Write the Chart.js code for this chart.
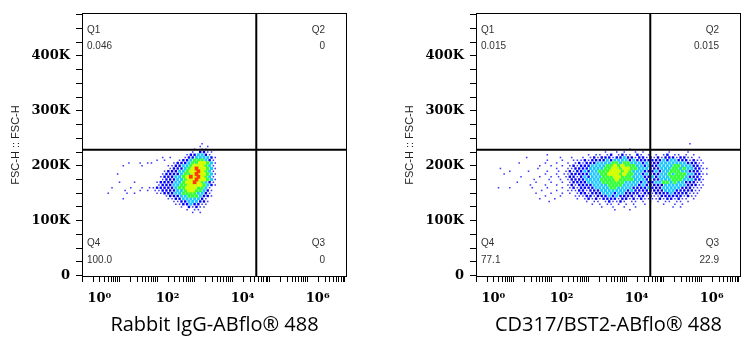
<!DOCTYPE html>
<html lang="en">
<head>
  <meta charset="UTF-8" />
  <title>CD317/BST2 flow cytometry</title>
  <script src="https://cdn.jsdelivr.net/npm/chart.js"></script>
  <style>
    body { margin: 0; background: #fff; }
    .plot { position: absolute; top: 0; }
    #plot-left { left: 0; }
    #plot-right { left: 394px; }
  </style>
</head>
<body>
  <div class="plot" id="plot-left"><canvas id="chart-left" width="360" height="350"></canvas></div>
  <div class="plot" id="plot-right"><canvas id="chart-right" width="360" height="350"></canvas></div>

  <script>
    // axes
    const xDecades = [-1, 0, 1, 2, 3, 4, 5, 6];
    const xMinorSteps = [1, 2, 3, 4, 5, 6, 7, 8, 9];
    const xLabelDecades = [0, 2, 4, 6];
    const xRange = [0.1, 1.15e6];
    const yRange = [-2500, 478000];
    const yTickValues = [0, 25000, 50000, 75000, 100000, 125000, 150000, 175000, 200000,
      225000, 250000, 275000, 300000, 325000, 350000, 375000, 400000, 425000, 450000, 475000];
    const yLabelValues = [0, 100000, 200000, 300000, 400000];

    // quadrant gate
    const gateX = 4400;
    const gateY = 229000;

    const leftTitle = 'Rabbit IgG-ABflo® 488';
    const rightTitle = 'CD317/BST2-ABflo® 488';
    const yTitle = 'FSC-H :: FSC-H';
    // Q1, Q2, Q3, Q4 (%)
    const leftQuadrants = ['0.046', '0', '0', '100.0'];
    const rightQuadrants = ['0.015', '0.015', '22.9', '77.1'];

    // event density: one string per FSC-H row (5K apart, top row first),
    // one char per 0.1 decade of fluorescence. '.' none, 1 sparse .. 6 densest
    const COL_STEP = 0.1;
    const ROW_STEP = 5000;
    const leftColStart = -0.3;
    const leftRowTop = 240000;
    const leftRows = [
      '..........|..........|.....1....',
      '..........|..........|....1.1...',
      '..........|..........|...1.11...',
      '..........|..........|..1.2211..',
      '..........|..........|.1223321..',
      '..........|....1.1...|122333321.',
      '..........|...1.1...1|223444321.',
      '.....1..1.|11.....122|234455431.',
      '....1....1|......1122|334555431.',
      '..........|......1222|345655431.',
      '..........|.....12223|345565431.',
      '..1.......|....122223|445655431.',
      '..........|....122233|456565431.',
      '..........|....122233|455655431.',
      '...1...1..|...1222233|455654321.',
      '..........|...1222334|455554321.',
      '.1....1..1|.112222234|45554431..',
      '....1...1.|1.11222233|45544321..',
      '1....1.1..|...1122233|44443321..',
      '..........|.....12223|34443221..',
      '....1.....|......1122|3333321...',
      '..........|.......112|2333221...',
      '..........|........11|2232211...',
      '..........|.........1|.21211....',
      '..........|..........|.1.11.....',
      '..........|..........|..1.1.....'
    ];
    const rightColStart = -0.5;
    const rightRowTop = 240000;
    const rightRows = [
      '..........|..........|..........|..........|..........|..1',
      '',
      '..........|..........|..........|......1',
      '..........|..........|.........1|..1.1..1.1|......1...|.1',
      '..........|....1.....|.....1.11.|12.1211.21|.1.1.12.11|.1.1',
      '........1.|.......1..|1..1.12122|2122322122|1212122212|211.1',
      '..........|....1...1.|.111212222|3233332322|2222232332|221211',
      '......1...|...1..1..1|.121222333|3443443332|3222333333|322211',
      '..........|..1..1..1.|1212223333|4454544433|2322333344|333221',
      '.1........|.1....1..1|1222233334|4554554433|3222333443|4332211',
      '....1....1|....1..1.1|2122323344|4555454333|2223233444|332221',
      '..1.......|...1..1.11|2222233344|5554544332|3222334344|4332211',
      '.......1..|..1..1.1.1|2212323334|4455444333|2232333444|432221',
      '..........|1...1..1.1|2222333344|4454444333|2322333444|333221',
      '......1...|.1...1..1.|1222233334|4444433332|3223344343|322211',
      '.........1|...1..1..1|2122223333|4444333323|2222233333|322211',
      '.1..1.....|1...1...1.|1212222333|3443333222|2322233333|222111',
      '..........|..1...1..1|1122122233|3333323222|2222233322|22211',
      '..........|.1...1..1.|1.12212223|3323322221|2212222322|22111',
      '..........|...1...1..|.111221222|3232222122|1211222222|1211',
      '..........|..1...1...|..1.121212|2221221212|1111212212|11.1',
      '..........|....1.....|....1.11.1|21121.11.1|.1.1.11.11|.1',
      '..........|..........|......1.1.|11.1.1.1..|1....1..1.|1',
      '..........|..........|........1.|.1..1..1..|.......1.1',
      '..........|..........|..........|..1...1...'
    ];

    // pseudocolour levels 1..6
    const levelColors = ['#3a3aff', '#0000ff', '#1ec8ff', '#36ff3c', '#d4ff00', '#ff3c00'];
    const levelRadius = [1.1, 1.7, 2.1, 2.4, 2.7, 2.7];

    const xTickValues = [];
    xDecades.forEach(d => xMinorSteps.forEach(m => xTickValues.push(m * Math.pow(10, d))));
    const supers = { 0: '\u2070', 2: '\u00b2', 4: '\u2074', 6: '\u2076' };

    function gridDatasets(rows, colStart, rowTop) {
      const byLevel = levelColors.map(() => []);
      rows.forEach((raw, j) => {
        const row = raw.replace(/\|/g, '');
        const y = rowTop - j * ROW_STEP;
        const shift = (j % 2) * COL_STEP / 2;
        [...row].forEach((ch, i) => {
          if (ch === '.') return;
          byLevel[+ch - 1].push({ x: Math.pow(10, colStart + i * COL_STEP + shift), y: y });
        });
      });
      return byLevel.map((pts, k) => ({
        data: pts,
        pointStyle: 'rect',
        pointRadius: levelRadius[k],
        backgroundColor: levelColors[k],
        borderWidth: 0,
        order: 10 - k
      }));
    }

    function gateDatasets() {
      const line = { showLine: true, borderColor: '#000', borderWidth: 2, pointRadius: 0, order: 0 };
      return [
        Object.assign({ data: [{ x: gateX, y: yRange[0] }, { x: gateX, y: yRange[1] }] }, line),
        Object.assign({ data: [{ x: xRange[0], y: gateY }, { x: xRange[1], y: gateY }] }, line)
      ];
    }

    const quadPlugin = {
      id: 'quadFrame',
      afterDatasetsDraw(chart, args, opts) {
        const { ctx, chartArea: a } = chart;
        ctx.save();
        ctx.strokeStyle = '#000';
        ctx.lineWidth = 1;
        ctx.strokeRect(a.left + 0.5, a.top + 0.5, a.width - 1, a.height - 1);
        ctx.font = '10px "Liberation Sans", Arial, sans-serif';
        ctx.fillStyle = '#333';
        ctx.textBaseline = 'middle';
        ctx.textAlign = 'left';
        ctx.fillText('Q1', a.left + 5, a.top + 17);
        ctx.fillText(opts.values[0], a.left + 5, a.top + 33);
        ctx.fillText('Q4', a.left + 5, a.bottom - 34);
        ctx.fillText(opts.values[3], a.left + 5, a.bottom - 17);
        ctx.textAlign = 'right';
        ctx.fillText('Q2', a.right - 22, a.top + 17);
        ctx.fillText(opts.values[1], a.right - 22, a.top + 33);
        ctx.fillText('Q3', a.right - 22, a.bottom - 34);
        ctx.fillText(opts.values[2], a.right - 22, a.bottom - 17);
        ctx.restore();
      }
    };

    function makePlot(id, rows, colStart, rowTop, title, quadrants) {
      return new Chart(document.getElementById(id), {
        type: 'scatter',
        data: { datasets: gridDatasets(rows, colStart, rowTop).concat(gateDatasets()) },
        plugins: [quadPlugin],
        options: {
          responsive: false,
          devicePixelRatio: 1,
          animation: false,
          events: [],
          layout: { padding: { left: 0, right: 13, top: 13, bottom: 0 } },
          plugins: {
            legend: { display: false },
            tooltip: { enabled: false },
            quadFrame: { values: quadrants }
          },
          scales: {
            x: {
              type: 'logarithmic',
              min: xRange[0],
              max: xRange[1],
              afterBuildTicks: s => {
                s.ticks = xTickValues.filter(v => v >= s.min && v <= s.max).map(v => ({ value: v }));
              },
              afterFit: s => { s.height = 73; s.paddingLeft = 0; s.paddingRight = 0; },
              border: { display: false },
              grid: { drawOnChartArea: false, tickLength: 5, color: '#000' },
              ticks: {
                autoSkip: false,
                maxRotation: 0,
                minRotation: 0,
                padding: 9,
                labelOffset: -27,
                color: '#000',
                font: { family: 'DejaVu Serif', size: 13, weight: 'bold' },
                callback: v => {
                  const d = Math.round(Math.log10(v));
                  if (Math.abs(v - Math.pow(10, d)) > 1e-9 * Math.pow(10, d)) return '';
                  if (!xLabelDecades.includes(d)) return '';
                  return (d === 0 ? '   ' : '') + '10' + supers[d];
                }
              },
              title: {
                display: true,
                text: title,
                color: '#000',
                font: { family: 'Open Sans', size: 20 },
                padding: { top: 0, bottom: 13 }
              }
            },
            y: {
              type: 'linear',
              min: yRange[0],
              max: yRange[1],
              afterBuildTicks: s => { s.ticks = yTickValues.map(v => ({ value: v })); },
              afterFit: s => { s.width = 82; s.paddingTop = 0; s.paddingBottom = 0; },
              border: { display: false },
              grid: { drawOnChartArea: false, tickLength: 6, color: '#000' },
              ticks: {
                autoSkip: false,
                padding: 6,
                color: '#000',
                font: { family: 'DejaVu Serif', size: 13, weight: 'bold' },
                callback: v => yLabelValues.includes(v) ? (v === 0 ? '0' : (v / 1000) + 'K') : ''
              },
              title: {
                display: true,
                text: yTitle,
                color: '#222',
                font: { family: 'Liberation Sans', size: 11 },
                padding: { top: 9, bottom: 0 }
              }
            }
          }
        }
      });
    }

    makePlot('chart-left', leftRows, leftColStart, leftRowTop, leftTitle, leftQuadrants);
    makePlot('chart-right', rightRows, rightColStart, rightRowTop, rightTitle, rightQuadrants);
  </script>
</body>
</html>
